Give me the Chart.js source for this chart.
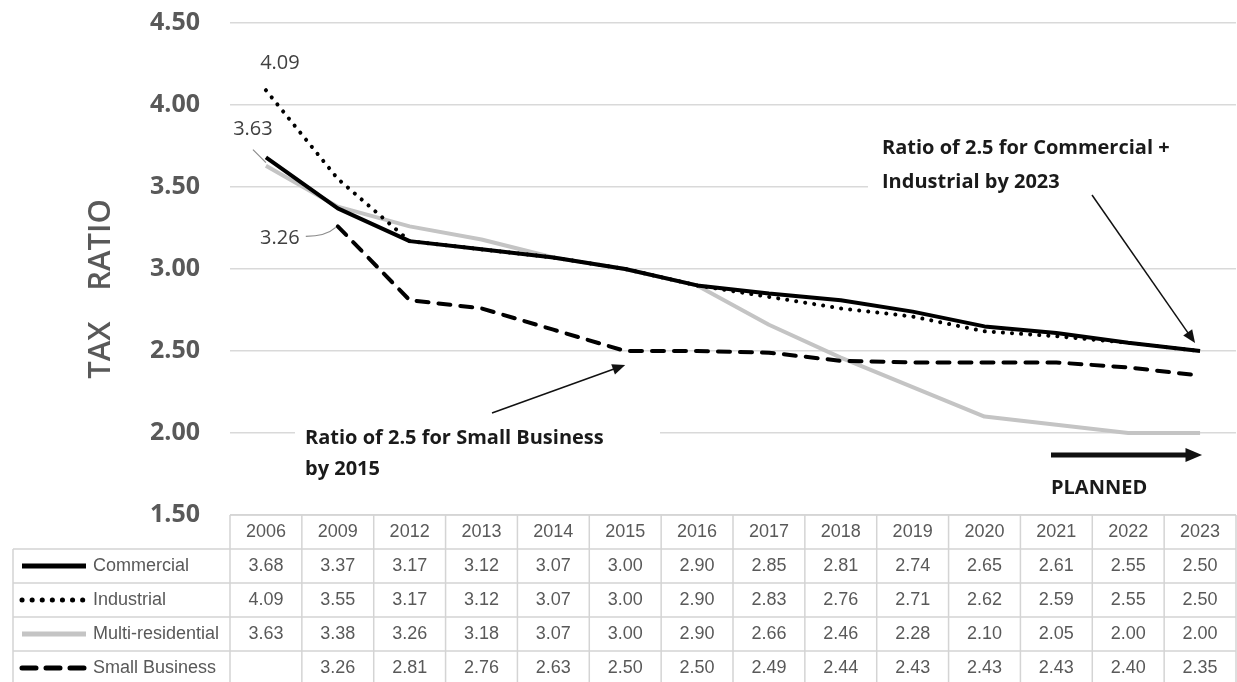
<!DOCTYPE html>
<html>
<head>
<meta charset="utf-8">
<script src="https://cdn.jsdelivr.net/npm/chart.js@4"></script>
<style>
  body { margin: 0; background: #fff; }
  #wrap { width: 1237px; height: 682px; }
</style>
</head>
<body>
<div id="wrap"><canvas id="canva" width="1237" height="682"></canvas></div>
<script>
const years = ["2006", "2009", "2012", "2013", "2014", "2015", "2016", "2017", "2018", "2019", "2020", "2021", "2022", "2023"];
const commercial = [3.68, 3.37, 3.17, 3.12, 3.07, 3.00, 2.90, 2.85, 2.81, 2.74, 2.65, 2.61, 2.55, 2.50];
const industrial = [4.09, 3.55, 3.17, 3.12, 3.07, 3.00, 2.90, 2.83, 2.76, 2.71, 2.62, 2.59, 2.55, 2.50];
const multiResidential = [3.63, 3.38, 3.26, 3.18, 3.07, 3.00, 2.90, 2.66, 2.46, 2.28, 2.10, 2.05, 2.00, 2.00];
const smallBusiness = [null, 3.26, 2.81, 2.76, 2.63, 2.50, 2.50, 2.49, 2.44, 2.43, 2.43, 2.43, 2.40, 2.35];
const yTicks = [1.5, 2.0, 2.5, 3.0, 3.5, 4.0, 4.5];

const ctx = document.getElementById("canva");
const grey = "#595959";
const boldFont = "bold 20px 'Open Sans'";

function arrow(c, x1, y1, x2, y2, width, head) {
  const a = Math.atan2(y2 - y1, x2 - x1);
  c.save();
  c.strokeStyle = "#111";
  c.fillStyle = "#111";
  c.lineWidth = width;
  c.beginPath();
  c.moveTo(x1, y1);
  c.lineTo(x2 - Math.cos(a) * head * 0.8, y2 - Math.sin(a) * head * 0.8);
  c.stroke();
  c.beginPath();
  c.moveTo(x2, y2);
  c.lineTo(x2 - head * Math.cos(a - 0.4), y2 - head * Math.sin(a - 0.4));
  c.lineTo(x2 - head * Math.cos(a + 0.4), y2 - head * Math.sin(a + 0.4));
  c.closePath();
  c.fill();
  c.restore();
}

// table under the plot + annotations
const extras = {
  id: "extras",
  afterDatasetsDraw(chart) {
    const c = chart.ctx;
    const xs = chart.scales.x;
    const ys = chart.scales.y;
    const area = chart.chartArea;
    const colW = (area.right - area.left) / years.length;
    const top = ys.getPixelForValue(1.5);
    const rowH = 34;
    const legendLeft = 13;

    c.save();
    // axis title
    c.fillStyle = grey;
    c.font = "600 31px 'Open Sans'";
    c.textAlign = "center";
    c.textBaseline = "middle";
    c.save();
    c.translate(101, 0);
    c.rotate(-Math.PI / 2);
    c.fillText("RATIO", -245, 0);
    c.fillText("TAX", -350, 0);
    c.restore();

    // table grid
    c.strokeStyle = "#d4d4d4";
    c.lineWidth = 1.5;
    c.beginPath();
    c.moveTo(area.left, top);
    c.lineTo(area.right, top);
    for (let r = 1; r <= 4; r++) {
      c.moveTo(legendLeft, top + rowH * r);
      c.lineTo(area.right, top + rowH * r);
    }
    c.moveTo(area.left, top);
    c.lineTo(area.left, chart.height);
    c.moveTo(legendLeft, top + rowH);
    c.lineTo(legendLeft, chart.height);
    for (let i = 1; i <= years.length; i++) {
      const x = area.left + colW * i;
      c.moveTo(x, top);
      c.lineTo(x, chart.height);
    }
    c.stroke();

    c.font = "18px 'Liberation Sans'";
    c.fillStyle = grey;
    c.textAlign = "center";
    c.textBaseline = "middle";
    years.forEach((yr, i) => c.fillText(yr, xs.getPixelForValue(i), top + rowH / 2));

    chart.data.datasets.forEach((ds, r) => {
      const cy = top + rowH * (r + 1) + rowH / 2;
      ds.data.forEach((v, i) => {
        if (v !== null) c.fillText(v.toFixed(2), xs.getPixelForValue(i), cy);
      });
      // legend sample
      c.save();
      c.strokeStyle = ds.borderColor;
      c.lineWidth = ds.borderWidth + 1;
      c.lineCap = ds.borderCapStyle || "butt";
      c.setLineDash(ds.legendDash || []);
      c.beginPath();
      c.moveTo(22, cy);
      c.lineTo(86, cy);
      c.stroke();
      c.restore();
      c.textAlign = "left";
      c.fillText(ds.label, 93, cy);
      c.textAlign = "center";
    });

    // data labels with leaders
    const pInd = chart.getDatasetMeta(1).data[0];
    const pMulti = chart.getDatasetMeta(2).data[0];
    const pSmall = chart.getDatasetMeta(3).data[1];
    c.font = "20px 'Open Sans'";
    c.fillStyle = "#404040";
    c.fillText(industrial[0].toFixed(2), pInd.x + 14, pInd.y - 27);
    c.fillText(multiResidential[0].toFixed(2), pMulti.x - 13, pMulti.y - 36);
    c.fillText(smallBusiness[1].toFixed(2), pSmall.x - 58, pSmall.y + 12);
    c.strokeStyle = "#8c8c8c";
    c.lineWidth = 1.2;
    c.beginPath();
    c.moveTo(pMulti.x - 13, pMulti.y - 16);
    c.lineTo(pMulti.x, pMulti.y - 3);
    c.moveTo(pSmall.x - 32, pSmall.y + 10);
    c.quadraticCurveTo(pSmall.x - 12, pSmall.y + 10, pSmall.x - 2, pSmall.y + 1);
    c.stroke();

    // annotation boxes
    c.fillStyle = "#fff";
    c.fillRect(868, 128, 369, 72);
    c.fillRect(295, 420, 365, 65);
    c.fillStyle = "#1a1a1a";
    c.font = boldFont;
    c.textAlign = "left";
    c.fillText("Ratio of 2.5 for Commercial +", 882, 148);
    c.fillText("Industrial by 2023", 882, 182);
    c.fillText("Ratio of 2.5 for Small Business", 305, 438);
    c.fillText("by 2015", 305, 469);
    c.fillText("PLANNED", 1051, 488);

    const pEnd = chart.getDatasetMeta(0).data[years.length - 1];
    arrow(c, 1092, 195, pEnd.x - 5, pEnd.y - 8, 1.5, 14);
    const pMid = chart.getDatasetMeta(3).data[5];
    arrow(c, 492, 413, pMid.x, pMid.y + 14, 1.5, 14);
    arrow(c, 1051, 455, pEnd.x + 2, 455, 5, 18);
    c.restore();
  }
};

new Chart(ctx, {
  type: "line",
  data: {
    labels: years,
    datasets: [
      {
        label: "Commercial",
        data: commercial,
        borderColor: "#000",
        borderWidth: 4,
        order: 0
      },
      {
        label: "Industrial",
        data: industrial,
        borderColor: "#000",
        borderWidth: 4,
        borderDash: [0.1, 9],
        borderCapStyle: "round",
        legendDash: [0.1, 10],
        order: 2
      },
      {
        label: "Multi-residential",
        data: multiResidential,
        borderColor: "#c4c4c4",
        borderWidth: 4,
        order: 3
      },
      {
        label: "Small Business",
        data: smallBusiness,
        borderColor: "#000",
        borderWidth: 4,
        borderDash: [12, 10],
        borderCapStyle: "round",
        legendDash: [14, 10],
        order: 1
      }
    ]
  },
  options: {
    responsive: false,
    animation: false,
    layout: { padding: { top: 23, bottom: 167, right: 1, left: 0 } },
    elements: {
      point: { radius: 0, hoverRadius: 0 },
      line: { tension: 0, borderJoinStyle: "round" }
    },
    scales: {
      x: {
        display: false,
        offset: true
      },
      y: {
        min: 1.5,
        max: 4.5,
        afterFit: (s) => { s.width = 230; },
        afterBuildTicks: (s) => { s.ticks = yTicks.map((v) => ({ value: v })); },
        border: { display: false },
        grid: { color: "#d9d9d9", lineWidth: 1.5, drawTicks: true, tickLength: 30, tickColor: "rgba(0,0,0,0)" },
        ticks: {
          padding: 0,
          color: grey,
          font: { family: "'Open Sans'", size: 25, weight: "bold" },
          callback: (v) => Number(v).toFixed(2)
        }
      }
    },
    plugins: {
      legend: { display: false },
      tooltip: { enabled: false }
    }
  },
  plugins: [extras]
});
</script>
</body>
</html>
